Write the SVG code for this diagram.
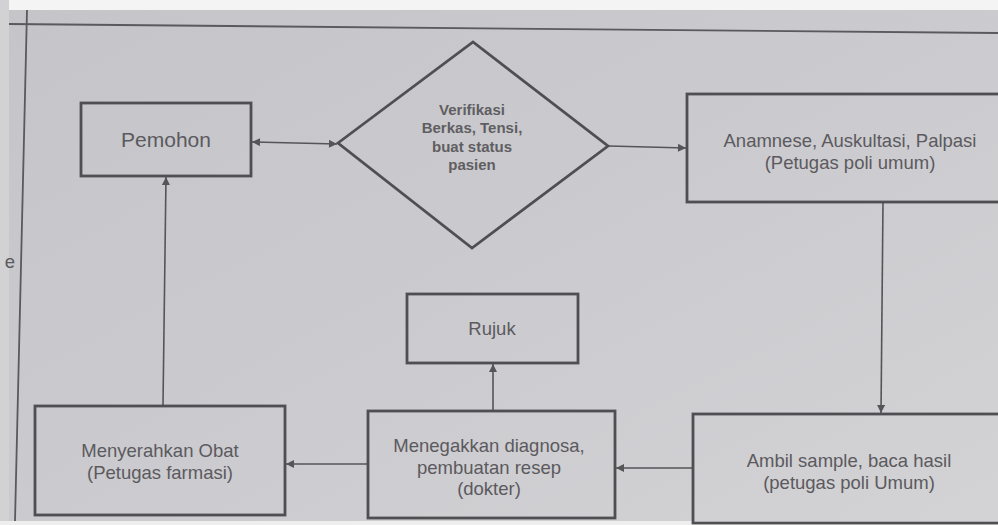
<svg xmlns="http://www.w3.org/2000/svg" width="998" height="525" viewBox="0 0 998 525">
<defs>
<linearGradient id="paper" x1="0" y1="0" x2="1" y2="1">
<stop offset="0" stop-color="#c5c4c8"/>
<stop offset="0.5" stop-color="#cbcace"/>
<stop offset="1" stop-color="#d3d2d5"/>
</linearGradient>
<marker id="ah" viewBox="0 0 10 10" refX="10" refY="5" markerWidth="9" markerHeight="8" markerUnits="userSpaceOnUse" orient="auto-start-reverse">
<path d="M0,0 L10,5 L0,10 z" fill="#555458"/>
</marker>
<style>
.box{fill:none;stroke:#4f4e52;stroke-width:2.8}
.con{fill:none;stroke:#555458;stroke-width:1.6}
.t{font-family:"Liberation Sans",Arial,sans-serif;font-size:18.5px;fill:#5b5a5e;text-anchor:middle}
.tb{font-family:"Liberation Sans",Arial,sans-serif;font-size:15px;font-weight:bold;fill:#5f5e62;text-anchor:middle}
.big{font-size:21px}
</style>
</defs>
<rect x="0" y="0" width="998" height="525" fill="url(#paper)"/>
<rect x="0" y="0" width="998" height="10" fill="#f4f4f5"/>
<rect x="0" y="0" width="9" height="525" fill="#d2d1d4"/>
<rect x="0" y="521" width="998" height="4" fill="#eeeeef"/>
<g id="frame">
<line x1="9" y1="24" x2="998" y2="33" stroke="#5a595d" stroke-width="1.8"/>
<line x1="27" y1="10" x2="15" y2="521" stroke="#5a595d" stroke-width="1.8"/>
<text x="10" y="268" class="t">e</text>
</g>
<g id="connectors">
<line class="con" x1="252" y1="142" x2="337" y2="144" marker-start="url(#ah)" marker-end="url(#ah)"/>
<line class="con" x1="609" y1="146" x2="686" y2="148" marker-end="url(#ah)"/>
<line class="con" x1="883" y1="203" x2="881" y2="413" marker-end="url(#ah)"/>
<line class="con" x1="693" y1="468" x2="616" y2="468" marker-end="url(#ah)"/>
<line class="con" x1="493" y1="410" x2="493" y2="364" marker-end="url(#ah)"/>
<line class="con" x1="367" y1="464" x2="286" y2="464" marker-end="url(#ah)"/>
<line class="con" x1="163" y1="405" x2="166" y2="177" marker-end="url(#ah)"/>
</g>
<g id="pemohon">
<rect class="box" x="81" y="103" width="170" height="73"/>
<text class="t big" x="166" y="147">Pemohon</text>
</g>
<g id="verifikasi">
<polygon class="box" points="338,143 473,42 608,146 472,248"/>
<text class="tb" x="472" y="115">Verifikasi</text>
<text class="tb" x="472" y="133">Berkas, Tensi,</text>
<text class="tb" x="472" y="152">buat status</text>
<text class="tb" x="472" y="170">pasien</text>
</g>
<g id="anamnese">
<rect class="box" x="687" y="94" width="320" height="108"/>
<text class="t" x="850" y="147">Anamnese, Auskultasi, Palpasi</text>
<text class="t" x="850" y="169">(Petugas poli umum)</text>
</g>
<g id="ambil">
<rect class="box" x="693" y="414" width="320" height="109"/>
<text class="t" x="849" y="467">Ambil sample, baca hasil</text>
<text class="t" x="849" y="489">(petugas poli Umum)</text>
</g>
<g id="menegakkan">
<rect class="box" x="368" y="411" width="247" height="107"/>
<text class="t" x="489" y="452">Menegakkan diagnosa,</text>
<text class="t" x="489" y="474">pembuatan resep</text>
<text class="t" x="489" y="495">(dokter)</text>
</g>
<g id="rujuk">
<rect class="box" x="407" y="294" width="171" height="69"/>
<text class="t" x="492" y="335">Rujuk</text>
</g>
<g id="menyerahkan">
<rect class="box" x="35" y="406" width="250" height="109"/>
<text class="t" x="160" y="457">Menyerahkan Obat</text>
<text class="t" x="160" y="479">(Petugas farmasi)</text>
</g>
</svg>
